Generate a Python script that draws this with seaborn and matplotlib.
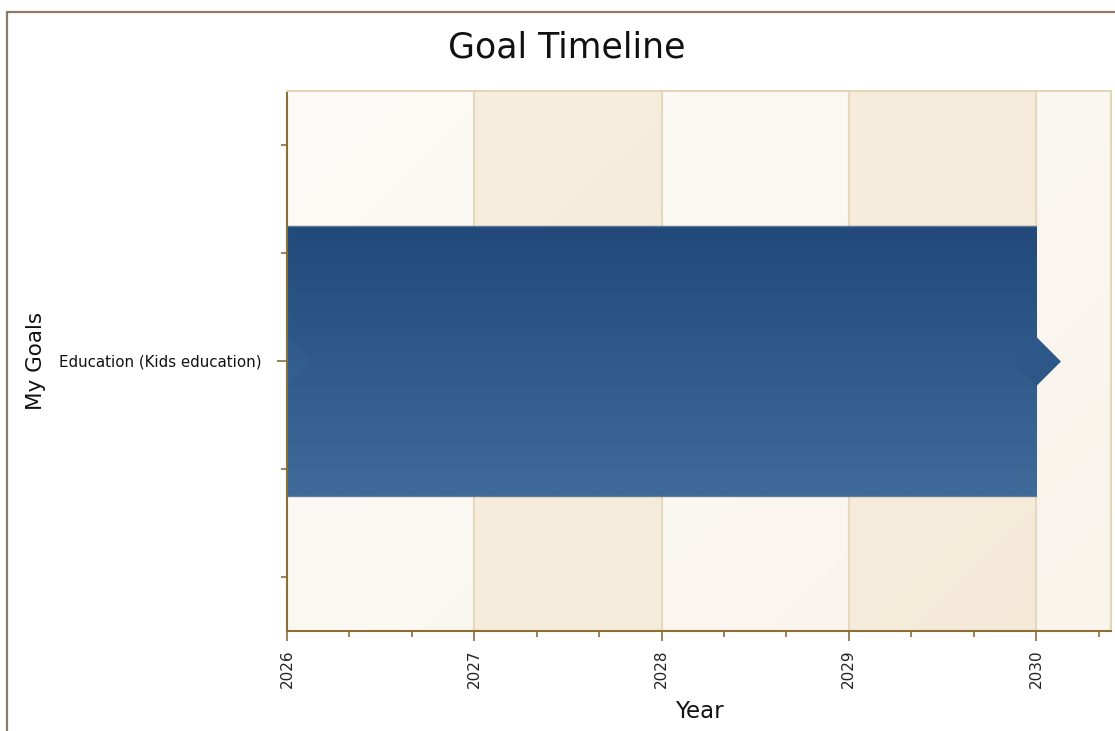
import numpy as np
import pandas as pd
import matplotlib
matplotlib.use("Agg")
import matplotlib.pyplot as plt
from matplotlib.colors import LinearSegmentedColormap
from matplotlib.patches import Rectangle
from matplotlib.ticker import FixedLocator, MultipleLocator
import seaborn as sns

# Goal data
goals = ["Education (Kids education)"]
start_years = [2026]
end_years = [2030]

year_ticks = [2026, 2027, 2028, 2029, 2030]

df = pd.DataFrame({"goal": goals, "start": start_years, "end": end_years})

sns.set_theme(style="white")
plt.rcParams["font.family"] = ["DejaVu Sans"]

fig = plt.figure(figsize=(11.15, 7.31), dpi=100)
fig.patch.set_facecolor("white")

# Outer frame of the chart panel
fig.patches.append(Rectangle((7 / 1115, -0.05), 1.2, 1 - 12 / 731 + 0.05,
                             transform=fig.transFigure, fill=False,
                             edgecolor="#8c7b6c", linewidth=1.6, zorder=0))

ax = fig.add_axes([287 / 1115, 1 - 631 / 731, (1111 - 287) / 1115, (631 - 91) / 731])

x_min, x_max = 2026, 2030.4
y_pos = np.arange(len(goals))
ax.set_xlim(x_min, x_max)
ax.set_ylim(y_pos[-1] + 2.5, y_pos[0] - 2.5)

# Soft diagonal background gradient
gx, gy = np.meshgrid(np.linspace(0, 1, 200), np.linspace(0, 1, 200))
grad = (gx * 0.6 + gy * 0.4)
bg_cmap = LinearSegmentedColormap.from_list("bg", ["#fdfbf7", "#f9f4ec"])
ax.imshow(grad, extent=(0, 1, 0, 1), transform=ax.transAxes, cmap=bg_cmap,
          aspect="auto", zorder=0, origin="upper")

# Alternating year bands
for i, yr in enumerate(year_ticks[:-1]):
    if i % 2 == 1:
        ax.axvspan(yr, yr + 1, color="#efdcbc", alpha=0.4, lw=0, zorder=0.5)

# Year grid lines
for yr in year_ticks:
    ax.axvline(yr, color="#e6d8bd", lw=1.5, zorder=1)

# Goal bars with vertical blue gradient
bar_h = 2.5
bar_cmap = LinearSegmentedColormap.from_list("bar", ["#214a7b", "#3f6a9a"])
for yp, (_, row) in zip(y_pos, df.iterrows()):
    bars = ax.barh(yp, row["end"] - row["start"], left=row["start"], height=bar_h,
                   facecolor="none", edgecolor="none", zorder=2)
    patch = bars[0]
    img = ax.imshow(np.linspace(0, 1, 256).reshape(-1, 1),
                    extent=(row["start"], row["end"], yp + bar_h / 2, yp - bar_h / 2),
                    cmap=bar_cmap, aspect="auto", zorder=2, origin="upper")
    img.set_clip_path(patch)
    ax.plot([row["start"], row["end"]], [yp - bar_h / 2] * 2, color="#5d7493", lw=1, zorder=3)
    ax.plot([row["start"], row["end"]], [yp + bar_h / 2] * 2, color="#6a7d96", lw=1, zorder=3)

# Start and end markers
sns.scatterplot(x=df["start"], y=y_pos, marker="D", s=620, color="#4a72a2",
                alpha=0.15, linewidth=0, ax=ax, zorder=4, legend=False)
sns.scatterplot(x=df["end"], y=y_pos, marker="D", s=620, color="#2d5789",
                linewidth=0, ax=ax, zorder=4, legend=False, clip_on=False)

# Ticks
ax.xaxis.set_major_locator(FixedLocator(year_ticks))
ax.xaxis.set_minor_locator(MultipleLocator(1 / 3))
ax.set_xticklabels([str(y) for y in year_ticks], rotation=90, fontsize=11, color="#222222")
ax.set_yticks(y_pos)
ax.set_yticklabels(goals, fontsize=10.8, color="#111111")
ax.yaxis.set_minor_locator(FixedLocator([-2, -1, 1, 2]))
ax.tick_params(axis="both", which="major", length=7, width=1.2, color="#8b6d36",
               bottom=True, left=True)
ax.tick_params(axis="x", which="major", pad=6)
ax.tick_params(axis="y", which="major", pad=11)
ax.tick_params(axis="both", which="minor", length=4, width=1.2, color="#8b6d36",
               bottom=True, left=True)

for side in ["left", "bottom"]:
    ax.spines[side].set_color("#8b6d36")
    ax.spines[side].set_linewidth(1.5)
for side in ["top", "right"]:
    ax.spines[side].set_color("#e3d5b7")
    ax.spines[side].set_linewidth(1.5)
ax.grid(False)

ax.set_xlabel("Year", fontsize=16.5, color="#111111")
ax.xaxis.set_label_coords(0.5, -(712 - 631) / 540, transform=ax.transAxes)
ax.xaxis.label.set_va("center")
ax.set_ylabel("My Goals", fontsize=15.5, color="#111111")
ax.yaxis.set_label_coords(-(287 - 36) / 824, 0.5)
ax.yaxis.label.set_va("center")

fig.text(567 / 1115, 1 - 47 / 731, "Goal Timeline", ha="center", va="center",
         fontsize=25, color="#111111")

fig.savefig("out.png", dpi=100)
